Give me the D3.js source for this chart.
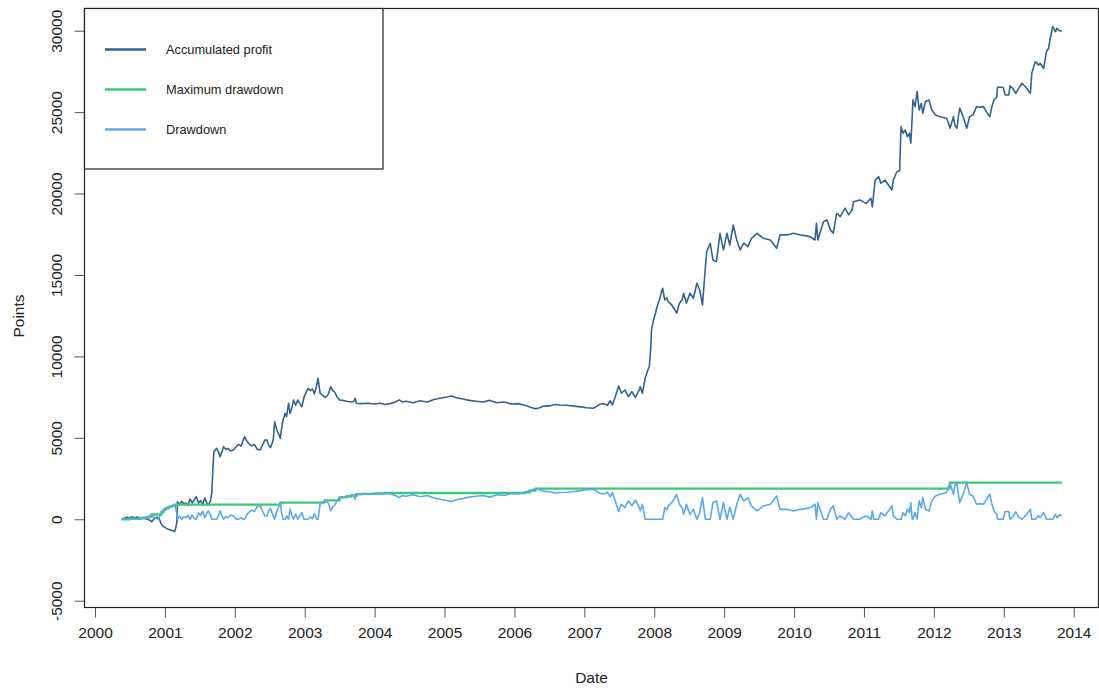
<!DOCTYPE html>
<html>
<head>
<meta charset="utf-8">
<script src="https://cdn.jsdelivr.net/npm/d3@7"></script>
<style>
  html, body { margin: 0; padding: 0; background: #fff; }
  svg text { font-family: "Liberation Sans", Arial, Helvetica, sans-serif; fill: #222; }
</style>
</head>
<body>
<svg id="chart" width="1099" height="688"></svg>
<script>
// Observation times (decimal years)
const dates = [
  2000.38,2000.42,2000.46,2000.49,2000.53,2000.57,2000.61,2000.65,2000.69,2000.73,2000.77,2000.81,2000.85,2000.89,2000.92,2000.95,2000.98,
  2001.01,2001.05,2001.09,2001.12,2001.14,2001.16,2001.17,2001.18,2001.21,2001.24,2001.27,2001.30,2001.33,2001.36,2001.39,2001.42,2001.45,
  2001.48,2001.51,2001.54,2001.57,2001.60,2001.62,2001.65,2001.67,2001.69,2001.70,2001.74,2001.77,2001.79,2001.82,2001.84,2001.87,2001.90,
  2001.94,2001.98,2002.02,2002.05,2002.09,2002.12,2002.14,2002.17,2002.20,2002.24,2002.28,2002.32,2002.36,2002.39,2002.43,2002.46,2002.48,
  2002.51,2002.55,2002.57,2002.60,2002.63,2002.65,2002.67,2002.69,2002.72,2002.74,2002.77,2002.79,2002.82,2002.84,2002.87,2002.90,2002.93,
  2002.96,2002.99,2003.02,2003.05,2003.08,2003.11,2003.14,2003.17,2003.19,2003.22,2003.26,2003.29,2003.31,2003.34,2003.37,2003.40,2003.43,
  2003.46,2003.50,2003.55,2003.60,2003.66,2003.70,2003.72,2003.74,2003.80,2003.90,2004.00,2004.08,2004.15,2004.22,2004.30,2004.35,2004.40,
  2004.45,2004.55,2004.65,2004.75,2004.85,2004.95,2005.05,2005.10,2005.18,2005.25,2005.35,2005.45,2005.55,2005.65,2005.75,2005.85,2005.95,
  2006.05,2006.15,2006.22,2006.30,2006.36,2006.42,2006.50,2006.58,2006.65,2006.75,2006.85,2006.95,2007.03,2007.13,2007.18,2007.22,2007.28,
  2007.33,2007.37,2007.40,2007.44,2007.49,2007.53,2007.58,2007.63,2007.68,2007.73,2007.78,2007.80,2007.83,2007.87,2007.90,2007.93,2007.95,
  2007.96,2007.99,2008.02,2008.04,2008.08,2008.10,2008.12,2008.15,2008.18,2008.20,2008.25,2008.29,2008.32,2008.36,2008.40,2008.42,2008.46,
  2008.51,2008.56,2008.61,2008.65,2008.69,2008.73,2008.75,2008.80,2008.84,2008.89,2008.94,2008.99,2009.04,2009.08,2009.13,2009.18,2009.23,
  2009.28,2009.34,2009.39,2009.47,2009.56,2009.66,2009.75,2009.80,2009.90,2009.99,2010.09,2010.18,2010.23,2010.30,2010.32,2010.34,2010.42,
  2010.47,2010.52,2010.56,2010.61,2010.66,2010.73,2010.78,2010.83,2010.85,2010.94,2011.03,2011.10,2011.12,2011.14,2011.16,2011.21,2011.24,
  2011.30,2011.40,2011.42,2011.47,2011.51,2011.53,2011.56,2011.59,2011.62,2011.65,2011.67,2011.69,2011.70,2011.73,2011.76,2011.79,2011.82,
  2011.84,2011.88,2011.93,2011.97,2012.02,2012.09,2012.18,2012.21,2012.23,2012.28,2012.30,2012.33,2012.35,2012.37,2012.42,2012.47,2012.51,
  2012.56,2012.61,2012.66,2012.71,2012.75,2012.80,2012.83,2012.86,2012.90,2012.91,2012.95,2012.99,2013.02,2013.07,2013.09,2013.13,2013.17,
  2013.22,2013.26,2013.31,2013.38,2013.40,2013.45,2013.50,2013.52,2013.57,2013.61,2013.64,2013.66,2013.70,2013.74,2013.76,2013.80,2013.83
];

// Accumulated profit (points)
const profit = [
  0,60,120,90,140,110,130,60,100,20,-20,-150,40,130,20,-300,-450,
  -530,-620,-680,-700,-760,-420,-230,1080,900,1100,950,1000,850,1250,1000,1200,1390,
  1000,1150,900,1300,1000,880,1100,1600,3330,4150,4360,4100,3840,4200,4460,4300,4350,
  4200,4250,4450,4600,4500,4870,5070,4800,4650,4500,4600,4300,4250,4500,4870,4870,4600,
  4400,4870,5990,5500,5200,4970,5600,6100,6500,6300,7120,6500,6900,7320,7000,7320,7100,
  6910,7500,7800,8040,7900,8000,7700,8200,8660,7740,7600,7500,7530,7700,8140,7900,7800,
  7530,7320,7300,7250,7200,7230,7430,7120,7100,7120,7080,7120,7050,7100,7200,7330,7200,
  7250,7150,7280,7200,7350,7450,7520,7570,7450,7400,7300,7250,7200,7300,7150,7200,7080,
  7100,7000,6900,6780,6850,6950,6960,7050,7020,7000,6950,6900,6850,6815,6950,7060,7100,
  7000,7280,7020,7490,8185,7740,7940,7530,7830,7490,7900,8140,7740,8660,9060,9400,10500,
  11620,12240,12700,13050,13570,13900,14180,13460,13600,13360,13160,12900,12650,13260,13500,13880,13260,
  13880,13570,14490,14080,13160,15410,16430,16950,15920,15820,17560,16540,17560,16840,18070,17150,16540,
  16950,16740,17250,17560,17250,17150,16640,17460,17460,17560,17460,17400,17350,17150,18170,17150,18270,
  18380,17760,17560,18790,18580,19100,18690,18990,19500,19610,19400,19710,19190,20010,20830,21040,20630,
  20830,20220,20830,21340,21400,24110,23700,23900,23490,23700,23090,24720,25750,25340,26260,25130,25540,
  24930,25650,25750,25130,24830,24720,24620,24310,24010,24720,24200,24010,24720,25240,24700,24010,24720,
  24830,25340,25300,25340,25030,24720,25340,25750,25950,26530,26530,26530,26050,26050,26600,26450,26150,
  26500,26770,26560,26150,27380,28100,27890,28000,27690,28710,28920,29430,30250,29940,30150,29980,30000
];

// Drawdown from the running peak (points)
const drawdown = [
  0,0,0,30,0,30,10,80,40,120,160,290,100,10,120,440,590,
  670,760,820,840,900,560,370,0,180,0,150,100,250,0,250,50,0,
  390,240,490,90,390,510,290,0,0,0,0,260,520,160,0,160,110,
  260,210,10,0,100,0,0,270,420,570,470,770,820,570,200,200,470,
  670,200,0,490,790,1020,390,0,0,200,0,620,220,0,320,0,220,
  410,0,0,0,140,40,340,0,0,920,1060,1160,1130,960,520,760,860,
  1130,1340,1360,1410,1460,1430,1230,1540,1560,1540,1580,1540,1610,1560,1460,1330,1460,
  1410,1510,1380,1460,1310,1210,1140,1090,1210,1260,1360,1410,1460,1360,1510,1460,1580,
  1560,1660,1760,1880,1810,1710,1700,1610,1640,1660,1710,1760,1810,1845,1710,1600,1560,
  1660,1380,1640,1170,475,920,720,1130,830,1170,760,520,920,0,0,0,0,
  0,0,0,0,0,0,0,720,580,820,1020,1280,1530,920,680,300,920,
  300,610,0,410,1330,0,0,0,1030,1130,0,1020,0,720,0,920,1530,
  1120,1330,820,510,820,920,1430,610,610,510,610,670,720,920,0,1020,0,
  0,620,820,0,210,0,410,110,0,0,210,0,520,0,0,0,410,
  210,820,210,0,0,0,410,210,620,410,1020,0,0,410,0,1130,720,
  1330,610,510,1130,1430,1540,1640,1950,2250,1540,2060,2250,1540,1020,1560,2250,1540,
  1430,920,960,920,1230,1540,920,510,310,0,0,0,480,480,0,150,450,
  100,0,210,620,0,0,210,100,410,0,0,0,0,310,100,270,250
];

// Maximum drawdown reached so far (step changes)
const maxDdDates = [2000.38,2000.49,2000.65,2000.73,2000.77,2000.81,2000.95,2000.98,2001.01,2001.05,2001.09,2001.12,2001.14,
  2002.65,2003.26,2003.29,2003.50,2003.55,2003.60,2003.66,2003.74,2003.80,2004.00,2004.15,2006.15,2006.22,2006.30,2012.21,2012.23,2013.83];
const maxDdValues = [0,30,80,120,160,290,440,590,670,760,820,840,900,
  1020,1060,1160,1340,1360,1410,1460,1540,1560,1580,1610,1660,1760,1880,1950,2250,2250];

const yTicks = [-5000, 0, 5000, 10000, 15000, 20000, 25000, 30000];
const xTicks = [2000, 2001, 2002, 2003, 2004, 2005, 2006, 2007, 2008, 2009, 2010, 2011, 2012, 2013, 2014];
const seriesNames = ["Accumulated profit", "Maximum drawdown", "Drawdown"];
const seriesColors = ["#33638f", "#3ec873", "#5ba8ea"];

const svg = d3.select("#chart");
const box = { left: 84.5, right: 1098.5, top: 8.5, bottom: 607.5 };

const x = d3.scaleLinear().domain([2000, 2014]).range([95, 1073.7]);
const y = d3.scaleLinear().domain([-5000, 30000]).range([600.7, 30.7]);

// Series lines
const lineOf = (ts, vs) => d3.line().x((d, i) => x(ts[i])).y(d => y(d))(vs);

svg.append("path")
  .attr("d", lineOf(dates, profit))
  .attr("fill", "none").attr("stroke", seriesColors[0]).attr("stroke-width", 1.6)
  .attr("stroke-linejoin", "round");

svg.append("path")
  .attr("d", d3.line().x((d, i) => x(maxDdDates[i])).y(d => y(d)).curve(d3.curveStepAfter)(maxDdValues))
  .attr("fill", "none").attr("stroke", seriesColors[1]).attr("stroke-width", 2.4);

svg.append("path")
  .attr("d", lineOf(dates, drawdown))
  .attr("fill", "none").attr("stroke", seriesColors[2]).attr("stroke-width", 1.6)
  .attr("stroke-linejoin", "round");

// Axes (plain hyphen for negative numbers)
const plain = d => String(d);

const xAxis = d3.axisBottom(x).tickValues(xTicks).tickFormat(plain).tickSize(10).tickSizeOuter(0);
const gx = svg.append("g").attr("transform", `translate(0,${box.bottom})`).call(xAxis);
gx.select(".domain").remove();
gx.selectAll(".tick line").attr("stroke", "#555");
gx.selectAll(".tick text").attr("y", 30.5).attr("dy", 0).style("font-size", "15.5px")
  .style("font-family", "'Liberation Sans', Arial, sans-serif").attr("fill", "#222");

const yAxis = d3.axisLeft(y).tickValues(yTicks).tickFormat(plain).tickSize(10).tickSizeOuter(0);
const gy = svg.append("g").attr("transform", `translate(${box.left},0)`).call(yAxis);
gy.select(".domain").remove();
gy.selectAll(".tick line").attr("stroke", "#555");
gy.selectAll(".tick text")
  .attr("x", null).attr("dy", null).attr("text-anchor", "middle")
  .attr("transform", "translate(-22.5,0) rotate(-90)")
  .style("font-size", "15.5px").style("font-family", "'Liberation Sans', Arial, sans-serif").attr("fill", "#222");

// Plot frame
svg.append("rect")
  .attr("x", box.left).attr("y", box.top)
  .attr("width", box.right - box.left).attr("height", box.bottom - box.top)
  .attr("fill", "none").attr("stroke", "#222").attr("stroke-width", 1.2);

// Axis titles
svg.append("text").attr("x", (box.left + box.right) / 2).attr("y", 683)
  .attr("text-anchor", "middle").style("font-size", "15.5px").text("Date");
svg.append("text")
  .attr("transform", "translate(24,316) rotate(-90)")
  .attr("text-anchor", "middle").style("font-size", "15.5px").text("Points");

// Legend
const legend = svg.append("g");
legend.append("rect").attr("x", box.left).attr("y", box.top).attr("width", 383 - box.left).attr("height", 169 - box.top)
  .attr("fill", "#fff").attr("stroke", "#222").attr("stroke-width", 1.2);
seriesNames.forEach((name, i) => {
  const ly = 49.5 + i * 40;
  legend.append("line").attr("x1", 105).attr("x2", 146).attr("y1", ly).attr("y2", ly)
    .attr("stroke", seriesColors[i]).attr("stroke-width", 2.6);
  legend.append("text").attr("x", 166).attr("y", ly + 4.5).style("font-size", "12.8px").text(name);
});
</script>
</body>
</html>
